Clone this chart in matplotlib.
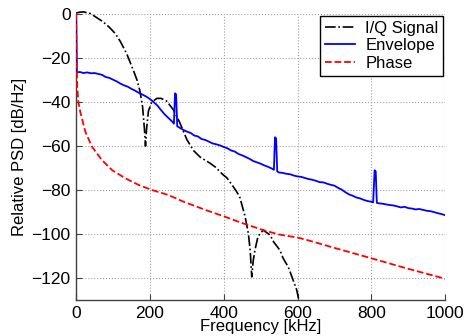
import matplotlib
matplotlib.use("Agg")
import matplotlib.pyplot as plt

plt.rcParams['font.family'] = ['Liberation Sans', 'DejaVu Sans']

# ---- data ----
iq_f = [0, 10, 20, 38, 55, 73, 90, 106, 120, 137, 155, 165, 173, 180, 185, 188,
        191, 196, 205, 219, 230, 245, 264, 280, 300, 318, 336, 363, 377, 398,
        409, 426, 436, 444, 453, 458, 467, 472, 476, 480, 485, 493, 507, 526,
        535, 553, 561, 575, 585, 598, 606]
iq_db = [0.5, 0.9, 1.0, 0.3, -1.5, -3.5, -6.0, -8.8, -12.5, -18.0, -25.5, -30.0,
         -35.0, -42.0, -52.0, -60.0, -52.0, -44.0, -40.0, -38.3, -38.3, -39.5,
         -43.6, -49.0, -57.0, -62.0, -65.0, -67.8, -69.5, -73.0, -74.5, -78.5,
         -81.0, -83.5, -89.0, -92.0, -100.0, -108.0, -119.5, -112.0, -107.0,
         -101.0, -98.2, -100.5, -103.5, -107.5, -111.0, -115.0, -119.5, -125.5,
         -132.0]

env_f = [0, 2, 10, 20, 30, 40, 50, 60, 70, 80, 90, 100, 110, 120, 130, 140, 150,
         160, 170, 180, 190, 200, 210, 220, 230, 240, 250, 260, 265, 268, 271,
         274, 280, 290, 300, 310, 320, 330, 340, 350, 360, 370, 380, 390, 400,
         410, 420, 430, 440, 450, 460, 470, 480, 490, 500, 510, 520, 530, 536,
         539, 542, 545, 550, 560, 570, 580, 590, 600, 610, 620, 630, 640, 650,
         660, 670, 680, 690, 700, 710, 720, 730, 740, 750, 760, 770, 780, 790,
         800, 805, 809, 812, 815, 820, 830, 840, 850, 860, 870, 880, 890, 900,
         910, 920, 930, 940, 950, 960, 970, 980, 990, 1000]
env_db = [0.0, -26.5, -26.3, -26.8, -26.5, -26.9, -26.8, -27.2, -27.6, -28.6,
          -29.0, -29.8, -30.6, -31.6, -32.4, -33.0, -34.0, -34.8, -35.8, -36.6,
          -37.5, -38.6, -40.0, -41.5, -43.6, -45.6, -47.2, -48.8, -49.8, -36.0,
          -36.5, -51.0, -51.6, -52.6, -53.4, -54.0, -55.2, -55.6, -56.8, -57.2,
          -58.0, -58.8, -59.2, -59.7, -60.4, -61.0, -62.0, -62.5, -63.6, -64.2,
          -65.0, -65.8, -66.8, -67.4, -68.0, -68.8, -69.4, -70.2, -70.8, -56.0,
          -56.5, -71.5, -72.0, -72.2, -72.6, -72.8, -73.4, -73.8, -74.0, -74.5,
          -75.0, -75.3, -75.8, -76.4, -76.5, -77.1, -77.6, -78.0, -79.0, -79.8,
          -81.0, -82.0, -82.6, -83.4, -83.8, -84.5, -85.0, -85.3, -85.6, -71.0,
          -71.5, -85.8, -86.0, -86.2, -86.5, -86.8, -87.0, -87.4, -87.9, -87.6,
          -88.2, -88.4, -88.8, -88.6, -89.0, -89.4, -89.6, -90.0, -90.5, -90.9,
          -91.4]

ph_f = [0, 1, 3, 6, 12, 25, 43, 70, 98, 134, 170, 206, 251, 291, 350, 398, 450,
        507, 550, 600, 626, 700, 800, 900, 1000]
ph_db = [0.0, -20.0, -33.0, -40.0, -45.0, -53.5, -60.3, -66.4, -71.0, -74.7,
         -77.7, -80.0, -82.3, -85.3, -89.0, -91.8, -95.0, -98.2, -100.2, -101.6,
         -102.7, -106.3, -111.0, -115.8, -120.3]

xticks = [0, 200, 400, 600, 800, 1000]
yticks = [0, -20, -40, -60, -80, -100, -120]
labels = ['I/Q Signal', 'Envelope', 'Phase']

fig = plt.figure(figsize=(4.70, 3.36), dpi=100)
ax = fig.add_axes([0.162, 0.107, 0.785, 0.851])

iq_line, = ax.plot(iq_f, iq_db, color='k', linestyle='-.', linewidth=1.2,
                   label=labels[0], zorder=3)
ax.plot(env_f, env_db, color='#0000ff', linestyle='-', linewidth=1.3,
        label=labels[1], zorder=3)
ax.plot(ph_f, ph_db, color='#ff0000', linestyle='--', linewidth=1.3,
        label=labels[2], zorder=3)

ax.set_xlim(0, 1000)
ax.set_ylim(-130, 0)
ax.set_xticks(xticks)
ax.set_yticks(yticks)
ax.set_yticklabels([('\u2212' + str(-v)) if v < 0 else str(v) for v in yticks])

# let the I/Q line peek slightly above 0 dB (as in the reference), but clip bottom
import matplotlib.transforms as mtransforms
clip_box = mtransforms.TransformedBbox(
    mtransforms.Bbox([[0, 0], [1, 1.03]]), ax.transAxes)
iq_line.set_clip_box(clip_box)

ax.grid(True, linestyle=':', color='#a0a0a0', linewidth=0.8)
ax.set_axisbelow(True)
for s in ['top', 'right']:
    ax.spines[s].set_visible(False)
for s in ['left', 'bottom']:
    ax.spines[s].set_color('#404040')
    ax.spines[s].set_linewidth(1.0)

ax.tick_params(direction='in', length=4, width=0.8, labelsize=12.5,
               pad=4, colors='#404040', labelcolor='k')

ax.set_xlabel('Frequency [kHz]', fontsize=12, labelpad=-1)
ax.set_ylabel('Relative PSD [dB/Hz]', fontsize=12, labelpad=3.5)

leg = ax.legend(loc='upper right', fontsize=12, frameon=True, fancybox=False,
                edgecolor='k', framealpha=1, borderaxespad=0.1,
                handlelength=1.8, handletextpad=0.6, borderpad=0.3,
                labelspacing=0.15)
leg.get_frame().set_linewidth(1.0)

fig.savefig('out.png', dpi=100)
